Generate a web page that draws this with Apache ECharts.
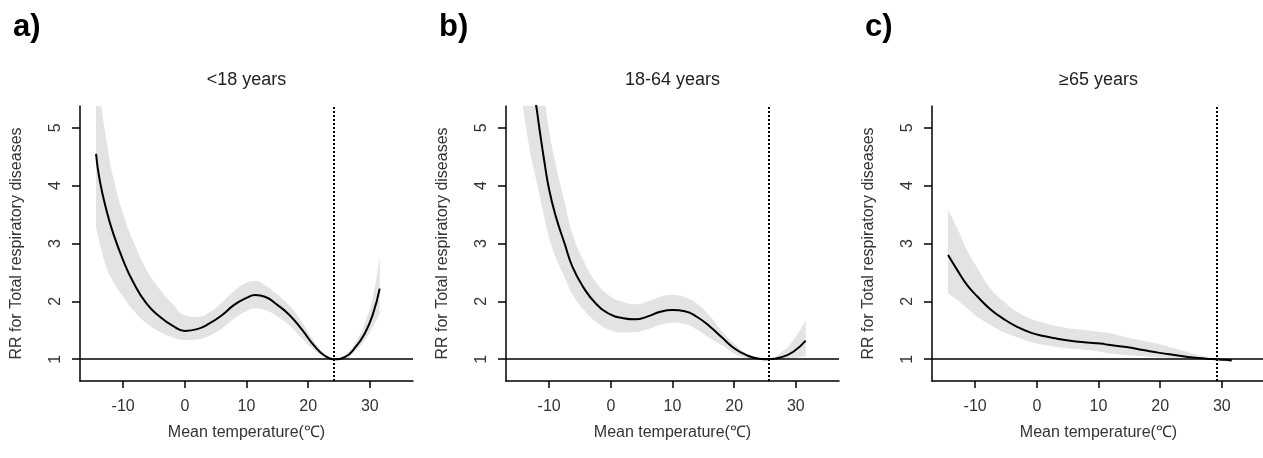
<!DOCTYPE html>
<html><head><meta charset="utf-8">
<script src="https://cdn.jsdelivr.net/npm/echarts@6/dist/echarts.min.js"></script>
<style>html,body{margin:0;padding:0;background:#fff}#c{width:1263px;height:458px}</style>
</head><body><div id="c"></div>
<script>
// ---- data ----
const panelLabels = ['a)', 'b)', 'c)'];
const panelTitles = ['<18 years', '18-64 years', '\u226565 years'];
const xTicks = [-10, 0, 10, 20, 30];
const yTicks = [1, 2, 3, 4, 5];
const refTemps = [24.2, 25.6, 29.1];
const xName = 'Mean temperature(\u2103)';
const yName = 'RR for Total respiratory diseases';

const tempsA = [-14.4, -13.8, -12.7, -11.6, -10, -8.4, -6.2, -4, -2, 0, 2, 4, 6, 8, 10, 11.4, 13, 15, 17, 19, 21, 22.7, 24.2, 26, 27.6, 29.2, 30.5, 31.6];
const rrA = [4.55, 4.09, 3.57, 3.17, 2.71, 2.34, 1.96, 1.73, 1.58, 1.49, 1.52, 1.62, 1.76, 1.94, 2.06, 2.11, 2.08, 1.94, 1.76, 1.51, 1.23, 1.06, 1.00, 1.04, 1.20, 1.45, 1.78, 2.22];
const loA = [3.28, 3.00, 2.59, 2.34, 2.08, 1.85, 1.62, 1.47, 1.38, 1.33, 1.34, 1.41, 1.53, 1.70, 1.83, 1.88, 1.85, 1.74, 1.58, 1.36, 1.16, 1.03, 1.00, 1.01, 1.14, 1.33, 1.56, 1.78];
const hiA = [6.20, 5.60, 4.78, 4.14, 3.51, 3.05, 2.54, 2.20, 1.96, 1.76, 1.73, 1.81, 1.98, 2.18, 2.32, 2.35, 2.28, 2.12, 1.92, 1.64, 1.31, 1.10, 1.00, 1.08, 1.28, 1.63, 2.08, 2.78];

const tempsB = [-14.4, -13.2, -12.1, -11.6, -10.8, -10, -8.9, -7.5, -6.2, -4.5, -2.4, 0, 2, 4, 6, 8, 10, 12, 14, 16, 18, 20, 22, 24, 25.6, 27.5, 29.6, 31.6];
const rrB = [7.2, 6.1, 5.38, 5.0, 4.43, 3.93, 3.46, 3.0, 2.59, 2.25, 1.96, 1.77, 1.71, 1.69, 1.74, 1.82, 1.85, 1.83, 1.73, 1.57, 1.38, 1.19, 1.07, 1.01, 1.00, 1.03, 1.13, 1.32];
const loB = [5.5, 4.65, 4.1, 3.85, 3.45, 3.10, 2.75, 2.42, 2.12, 1.87, 1.65, 1.50, 1.46, 1.47, 1.52, 1.59, 1.63, 1.61, 1.51, 1.37, 1.24, 1.10, 1.02, 1.00, 1.00, 1.00, 1.02, 1.05];
const hiB = [9.6, 8.0, 6.9, 6.4, 5.6, 4.95, 4.35, 3.72, 3.16, 2.72, 2.33, 2.08, 1.99, 1.95, 2.00, 2.08, 2.11, 2.07, 1.96, 1.75, 1.49, 1.27, 1.10, 1.02, 1.00, 1.11, 1.33, 1.68];

const tempsC = [-14.4, -12.9, -11.3, -9.6, -7.5, -5.3, -3.2, -1, 1.1, 3.3, 5.4, 8.1, 10.3, 11.9, 14.5, 17.2, 19.9, 22.6, 25.3, 27.5, 29.1, 30.5, 31.6];
const rrC = [2.80, 2.54, 2.28, 2.08, 1.86, 1.69, 1.56, 1.46, 1.40, 1.355, 1.32, 1.29, 1.27, 1.245, 1.21, 1.16, 1.11, 1.07, 1.03, 1.01, 1.00, 0.99, 0.98];
const loC = [2.14, 2.02, 1.88, 1.73, 1.59, 1.46, 1.38, 1.30, 1.25, 1.21, 1.18, 1.16, 1.13, 1.10, 1.07, 1.05, 1.03, 1.02, 1.01, 1.00, 1.00, 0.97, 0.95];
const hiC = [3.57, 3.26, 2.88, 2.57, 2.22, 1.99, 1.82, 1.70, 1.63, 1.57, 1.53, 1.50, 1.47, 1.45, 1.38, 1.32, 1.26, 1.18, 1.10, 1.04, 1.00, 1.01, 1.02];

// ---- layout ----
const panels = [
  {temps: tempsA, rr: rrA, lo: loA, hi: hiA},
  {temps: tempsB, rr: rrB, lo: loB, hi: hiB},
  {temps: tempsC, rr: rrC, lo: loC, hi: hiC}
];
const gridLefts = [80, 506, 932];
const gridTop = 106, gridH = 275, gridW = 333;
const FONT = '"Liberation Sans", Arial, sans-serif';
const TXT = '#333';
const SMOOTH = 0.5;

const grid = [], xAxis = [], yAxis = [], series = [], graphic = [];
panels.forEach((p, i) => {
  grid.push({left: gridLefts[i], top: gridTop, width: gridW, height: gridH, outerBoundsMode: 'none', containLabel: false});
  xAxis.push({
    type: 'value', gridIndex: i, min: -17, max: 37, z: 10,
    axisLine: {show: true, onZero: false, lineStyle: {color: '#000', width: 1.5}},
    axisTick: {show: true, length: 7, customValues: xTicks, lineStyle: {color: '#000', width: 1.5}},
    axisLabel: {show: true, customValues: xTicks, margin: 18, fontSize: 16, color: TXT, fontFamily: FONT},
    splitLine: {show: false},
    name: xName, nameLocation: 'middle', nameGap: 44,
    nameTextStyle: {fontSize: 16, color: TXT, fontFamily: FONT}
  });
  yAxis.push({
    type: 'value', gridIndex: i, min: 0.624, max: 5.376, z: 10,
    axisLine: {show: true, onZero: false, lineStyle: {color: '#000', width: 1.5}},
    axisTick: {show: true, length: 8, customValues: yTicks, lineStyle: {color: '#000', width: 1.5}},
    axisLabel: {show: true, customValues: yTicks, rotate: 90, margin: 16, fontSize: 16, color: TXT, fontFamily: FONT},
    splitLine: {show: false},
    name: yName, nameLocation: 'middle', nameRotate: 90, nameGap: 55,
    nameTextStyle: {fontSize: 16, color: TXT, fontFamily: FONT}
  });
  // band: value first so that the stack runs along the RR dimension
  const loData = p.temps.map((t, k) => [p.lo[k], t]);
  const dData = p.temps.map((t, k) => [p.hi[k] - p.lo[k], t]);
  const rrData = p.temps.map((t, k) => [t, p.rr[k]]);
  series.push({
    type: 'line', xAxisIndex: i, yAxisIndex: i, data: loData, encode: {x: 1, y: 0},
    stack: 'band' + i, symbol: 'none', smooth: SMOOTH, lineStyle: {opacity: 0, width: 0}, silent: true, z: 1
  });
  series.push({
    type: 'line', xAxisIndex: i, yAxisIndex: i, data: dData, encode: {x: 1, y: 0},
    stack: 'band' + i, symbol: 'none', smooth: SMOOTH, lineStyle: {opacity: 0, width: 0},
    areaStyle: {color: '#e3e3e3', opacity: 1}, silent: true, z: 1
  });
  series.push({
    type: 'line', xAxisIndex: i, yAxisIndex: i, data: rrData,
    symbol: 'none', smooth: SMOOTH, lineStyle: {color: '#000', width: 2}, silent: true, z: 3,
    markLine: {
      silent: true, symbol: ['none', 'none'], animation: false, label: {show: false},
      data: [
        {yAxis: 1, lineStyle: {type: 'solid', width: 1.5, color: '#000'}},
        {xAxis: refTemps[i], lineStyle: {type: [2, 2], width: 2, color: '#000'}}
      ]
    }
  });
  graphic.push({
    type: 'text', x: gridLefts[i] - 67, y: 12,
    style: {text: panelLabels[i], font: 'bold 31px ' + FONT, fill: '#000', align: 'left', verticalAlign: 'top', textAlign: 'left', textVerticalAlign: 'top'}
  });
  graphic.push({
    type: 'text', x: gridLefts[i] + gridW / 2, y: 80,
    style: {text: panelTitles[i], font: '18px ' + FONT, fill: '#222', align: 'center', verticalAlign: 'middle', textAlign: 'center', textVerticalAlign: 'middle'}
  });
});

const chart = echarts.init(document.getElementById('c'), null, {renderer: 'canvas'});
chart.setOption({
  backgroundColor: '#fff',
  animation: false,
  grid, xAxis, yAxis, series, graphic
});
</script>
</body></html>
